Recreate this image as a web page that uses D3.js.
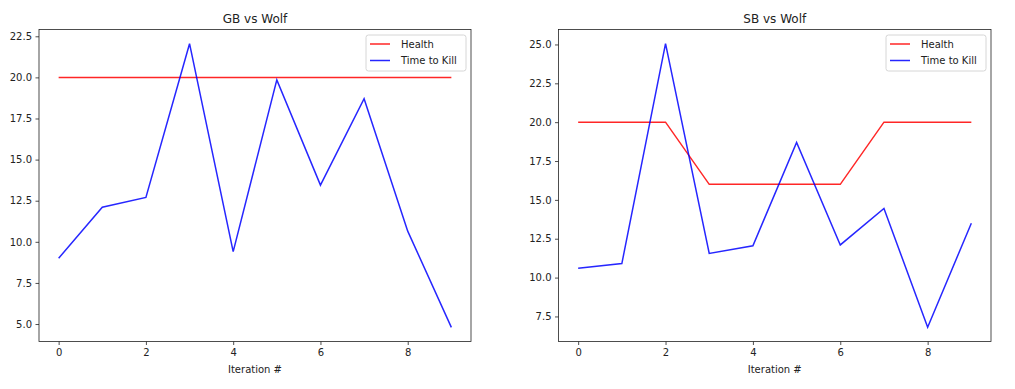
<!DOCTYPE html>
<html>
<head>
<meta charset="utf-8">
<script src="https://cdn.jsdelivr.net/npm/d3@7"></script>
<style>
  body { margin: 0; background: #fff; }
  svg text { font-family: "DejaVu Sans", sans-serif; fill: #222; }
</style>
</head>
<body>
<svg id="chart" width="1015" height="389"></svg>
<script>
// iterations on the x axis
var iterations = [0, 1, 2, 3, 4, 5, 6, 7, 8, 9];
var xTicks = [0, 2, 4, 6, 8];

// GB vs Wolf
var gbHealth = [20, 20, 20, 20, 20, 20, 20, 20, 20, 20];
var gbTime = [9.0, 12.1, 12.7, 22.05, 9.4, 19.85, 13.45, 18.7, 10.65, 4.8];
var gbTicks = [5.0, 7.5, 10.0, 12.5, 15.0, 17.5, 20.0, 22.5];

// SB vs Wolf
var sbHealth = [20, 20, 20, 16, 16, 16, 16, 20, 20, 20];
var sbTime = [10.6, 10.9, 25.05, 11.55, 12.05, 18.7, 12.1, 14.45, 6.8, 13.5];
var sbTicks = [7.5, 10.0, 12.5, 15.0, 17.5, 20.0, 22.5, 25.0];

var svg = d3.select("#chart");

function drawPanel(left, right, title, health, time, yTicks) {
    var top = 29.5, bottom = 341.5;
    var g = svg.append("g");

    // matplotlib style 5% margins
    var xs = d3.extent(iterations), xpad = (xs[1] - xs[0]) * 0.05;
    var x = d3.scaleLinear().domain([xs[0] - xpad, xs[1] + xpad]).range([left, right]);
    var all = health.concat(time);
    var ys = d3.extent(all), ypad = (ys[1] - ys[0]) * 0.05;
    var y = d3.scaleLinear().domain([ys[0] - ypad, ys[1] + ypad]).range([bottom, top]);

    var xAxis = g.append("g").attr("transform", "translate(0," + bottom + ")")
        .call(d3.axisBottom(x).tickValues(xTicks).tickFormat(d3.format("d")).tickSize(3.5).tickPadding(3.5));
    var yAxis = g.append("g").attr("transform", "translate(" + left + ",0)")
        .call(d3.axisLeft(y).tickValues(yTicks).tickFormat(d3.format(".1f")).tickSize(3.5).tickPadding(3.5));
    [xAxis, yAxis].forEach(function(a) {
        a.select(".domain").remove();
        a.selectAll("line").attr("stroke", "#222").attr("stroke-width", 0.8);
        a.selectAll("text").style("font-size", "10px").attr("fill", "#222")
            .style("font-family", "'DejaVu Sans', sans-serif");
    });

    var line = d3.line().x(function(d, i) { return x(iterations[i]); }).y(function(d) { return y(d); });

    g.append("path").datum(health).attr("d", line)
        .attr("fill", "none").attr("stroke", "red").attr("stroke-width", 1.5).attr("opacity", 0.85);
    g.append("path").datum(time).attr("d", line)
        .attr("fill", "none").attr("stroke", "blue").attr("stroke-width", 1.5).attr("opacity", 0.85);

    // axes frame
    g.append("rect").attr("x", left).attr("y", top)
        .attr("width", right - left).attr("height", bottom - top)
        .attr("fill", "none").attr("stroke", "#222").attr("stroke-width", 0.8);

    g.append("text").attr("x", (left + right) / 2).attr("y", top - 7)
        .attr("text-anchor", "middle").style("font-size", "12px").text(title);
    g.append("text").attr("x", (left + right) / 2).attr("y", 373)
        .attr("text-anchor", "middle").style("font-size", "10px").text("Iteration #");

    // legend
    var lw = 100, lx = right - 5 - lw, ly = top + 5.5;
    var leg = g.append("g");
    leg.append("rect").attr("x", lx).attr("y", ly).attr("width", lw).attr("height", 36)
        .attr("rx", 2.5).attr("fill", "#fff").attr("fill-opacity", 0.8)
        .attr("stroke", "#ccc").attr("stroke-width", 0.8);
    var items = [["Health", "red"], ["Time to Kill", "blue"]];
    items.forEach(function(it, i) {
        var yy = ly + 9 + i * 16.5;
        leg.append("line").attr("x1", lx + 4).attr("x2", lx + 24).attr("y1", yy).attr("y2", yy)
            .attr("stroke", it[1]).attr("stroke-width", 1.5).attr("opacity", 0.85);
        leg.append("text").attr("x", lx + 35).attr("y", yy + 3.5)
            .style("font-size", "10px").text(it[0]);
    });
}

drawPanel(39, 471, "GB vs Wolf", gbHealth, gbTime, gbTicks);
drawPanel(558.5, 991, "SB vs Wolf", sbHealth, sbTime, sbTicks);
</script>
</body>
</html>
